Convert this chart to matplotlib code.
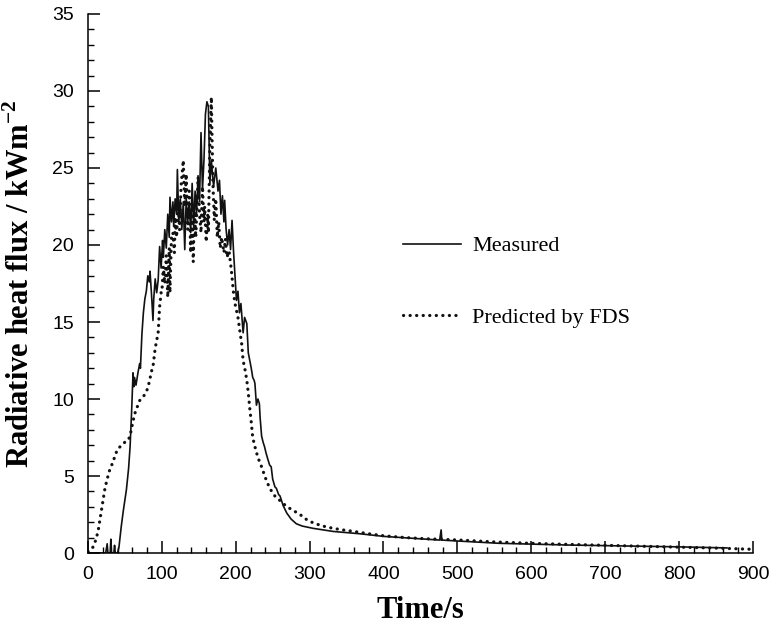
import numpy as np
import matplotlib
matplotlib.use('Agg')
import matplotlib.pyplot as plt
from matplotlib.ticker import MultipleLocator

plt.rcParams.update({
    'font.family': 'Liberation Sans',
    'font.size': 14,
    'axes.linewidth': 1.1,
    'xtick.direction': 'in',
    'ytick.direction': 'in',
    'xtick.major.size': 8.5,
    'ytick.major.size': 8.5,
    'xtick.minor.size': 4,
    'ytick.minor.size': 4,
    'xtick.major.width': 1.1,
    'ytick.major.width': 1.1,
    'xtick.minor.width': 1.0,
    'ytick.minor.width': 1.0,
})

# Measured radiative heat flux (time s, kW/m2)
meas_t = [0, 24, 26, 27, 30, 31, 32, 35, 36, 37, 40, 42, 45, 48, 52, 55, 57, 59,
          60, 61, 62, 63, 65, 66, 68, 70, 71, 73, 75, 77, 79, 81, 83, 84, 86, 88,
          89, 91, 93, 95, 97, 99, 101, 102, 104, 106, 108, 110, 111, 113, 115,
          116, 118, 120, 121, 123, 125, 127, 129, 131, 133, 135, 137, 139, 141,
          143, 145, 147, 149, 151, 153, 155, 157, 159, 161, 163, 165, 167, 170,
          173, 176, 178, 180, 182, 184, 185, 187, 189, 191, 193, 195, 197, 199,
          201, 203, 205, 207, 210, 212, 215, 217, 219, 221, 223, 225, 226, 228,
          230, 232, 233, 235, 237, 239, 241, 244, 246, 248, 250, 253, 255, 258,
          260, 264, 269, 275, 282, 290, 305, 332, 368, 400, 440, 476, 478, 479,
          500, 557, 600, 648, 700, 738, 800, 828, 865]
meas_q = [0, 0, 0.6, 0, 0, 0.9, 0, 0, 0.5, 0, 0, 0.4, 1.7, 2.8, 4.1, 5.5, 6.9, 9.1,
          10.5, 11.7, 10.8, 11.4, 10.9, 11.2, 11.8, 12.3, 12.0, 14.2, 15.6, 16.5,
          17.0, 18.0, 17.6, 18.3, 16.8, 15.1, 16.5, 17.8, 16.9, 17.7, 19.9, 18.5,
          20.3, 19.2, 21.0, 19.8, 22.0, 20.5, 23.1, 21.5, 22.8, 21.2, 23.0, 22.0,
          24.9, 21.5, 23.0, 21.0, 22.8, 19.7, 23.0, 21.5, 22.8, 20.8, 24.0, 21.2,
          23.5, 22.0, 24.5, 22.8, 27.3, 23.6, 25.5, 28.5, 29.3, 29.0, 24.0, 25.5,
          23.8, 25.0, 23.5, 24.2, 22.0, 23.2, 21.5, 22.9, 21.0, 20.0, 21.0, 19.7,
          21.6, 19.6, 18.0, 16.4, 17.0, 15.6, 16.2, 14.3, 15.3, 14.9, 13.0, 12.5,
          12.0, 11.4, 11.2, 11.0, 9.6, 10.0, 9.7, 8.8, 7.6, 7.2, 6.9, 6.5, 6.0,
          5.7, 5.6, 4.8, 4.3, 4.2, 3.8, 3.7, 3.1, 2.6, 2.2, 1.9, 1.75, 1.6, 1.4,
          1.25, 1.08, 0.95, 0.84, 1.5, 0.84, 0.78, 0.63, 0.58, 0.52, 0.48, 0.45,
          0.4, 0.37, 0.33]

# FDS prediction
fds_t = [0, 4, 7, 11, 14, 17, 20, 23, 26, 30, 34, 37, 41, 46, 50, 54, 57, 59, 63,
         66, 70, 74, 77, 80, 83, 86, 88, 91, 93, 95, 97, 99, 100, 102, 104, 106,
         108, 110, 111, 113, 115, 117, 118, 120, 122, 124, 126, 129, 131, 133,
         135, 137, 139, 141, 142.5, 144, 146, 149, 151, 153, 155, 157, 158, 160,
         162, 163, 165, 167, 169, 171, 173, 175, 177, 179, 181, 184, 186, 188,
         191, 194, 197, 199, 203, 208, 210, 213, 215, 217, 219, 221, 223, 226,
         230, 235, 240, 246, 253, 260, 267, 273, 280, 287, 295, 305, 318, 332,
         345, 360, 380, 400, 430, 460, 500, 550, 600, 650, 700, 750, 800, 850, 900]
fds_q = [0.1, 0.2, 0.4, 0.9, 1.5, 2.4, 3.3, 4.2, 4.8, 5.5, 5.9, 6.4, 6.8, 7.0, 7.2,
         7.3, 7.6, 8.1, 9.0, 9.4, 9.9, 10.1, 10.3, 10.6, 11.1, 11.8, 12.1, 13.3,
         13.8, 14.3, 16.0, 16.9, 16.9, 18.6, 17.5, 19.3, 16.6, 19.8, 16.9, 20.5,
         20.8, 19.5, 21.8, 20.5, 23.0, 21.0, 23.8, 25.5, 22.5, 24.6, 21.0, 23.5,
         19.5, 22.5, 18.9, 22.2, 20.5, 24.4, 22.0, 20.8, 23.8, 21.5, 22.5, 20.2,
         22.0, 20.8, 26.5, 29.6, 24.2, 21.6, 23.0, 20.5, 21.5, 19.8, 20.5, 19.5,
         20.4, 19.2, 19.6, 18.4, 16.9, 16.2, 15.3, 13.6, 12.5, 11.8, 11.2, 10.4,
         9.4, 8.5, 7.5, 6.9, 6.2, 5.6, 4.9, 4.2, 3.7, 3.4, 3.1, 2.9, 2.7, 2.5,
         2.2, 1.95, 1.75, 1.6, 1.5, 1.4, 1.25, 1.12, 1.0, 0.92, 0.85, 0.72, 0.63,
         0.56, 0.5, 0.44, 0.38, 0.32, 0.24]

serif = 'Liberation Serif'

fig = plt.figure(figsize=(7.73, 6.30), dpi=100)
ax = fig.add_axes([0.1138, 0.1222, 0.974 - 0.1138, 0.9778 - 0.1222])

ax.plot(meas_t, meas_q, color='#111111', lw=1.2, label='Measured')
ax.plot(fds_t, fds_q, color='#111111', lw=2.3, linestyle=(0, (0.05, 2.0)),
        dash_capstyle='round', label='Predicted by FDS')

ax.set_xlim(0, 900)
ax.set_ylim(0, 35)
ax.xaxis.set_major_locator(MultipleLocator(100))
ax.xaxis.set_minor_locator(MultipleLocator(20))
ax.yaxis.set_major_locator(MultipleLocator(5))
ax.yaxis.set_minor_locator(MultipleLocator(1))
ax.tick_params(which='both', top=False, right=False)
ax.tick_params(axis='x', pad=9)
ax.tick_params(axis='y', pad=10)
ax.spines['top'].set_visible(False)
ax.spines['right'].set_visible(False)

ax.set_xlabel('Time/s', family=serif, fontweight='bold', fontsize=22, labelpad=10)
ax.set_ylabel(r'Radiative heat flux / kWm$^{\mathregular{-2}}$', family=serif,
              fontweight='bold', fontsize=22, labelpad=12)

leg = ax.legend(loc='center left', bbox_to_anchor=(0.474, 0.503), frameon=False,
                prop={'family': serif, 'size': 16}, handlelength=2.6,
                handletextpad=0.5, labelspacing=2.3, borderpad=0, borderaxespad=0)

fig.savefig('out.png', dpi=100)
plt.close(fig)
